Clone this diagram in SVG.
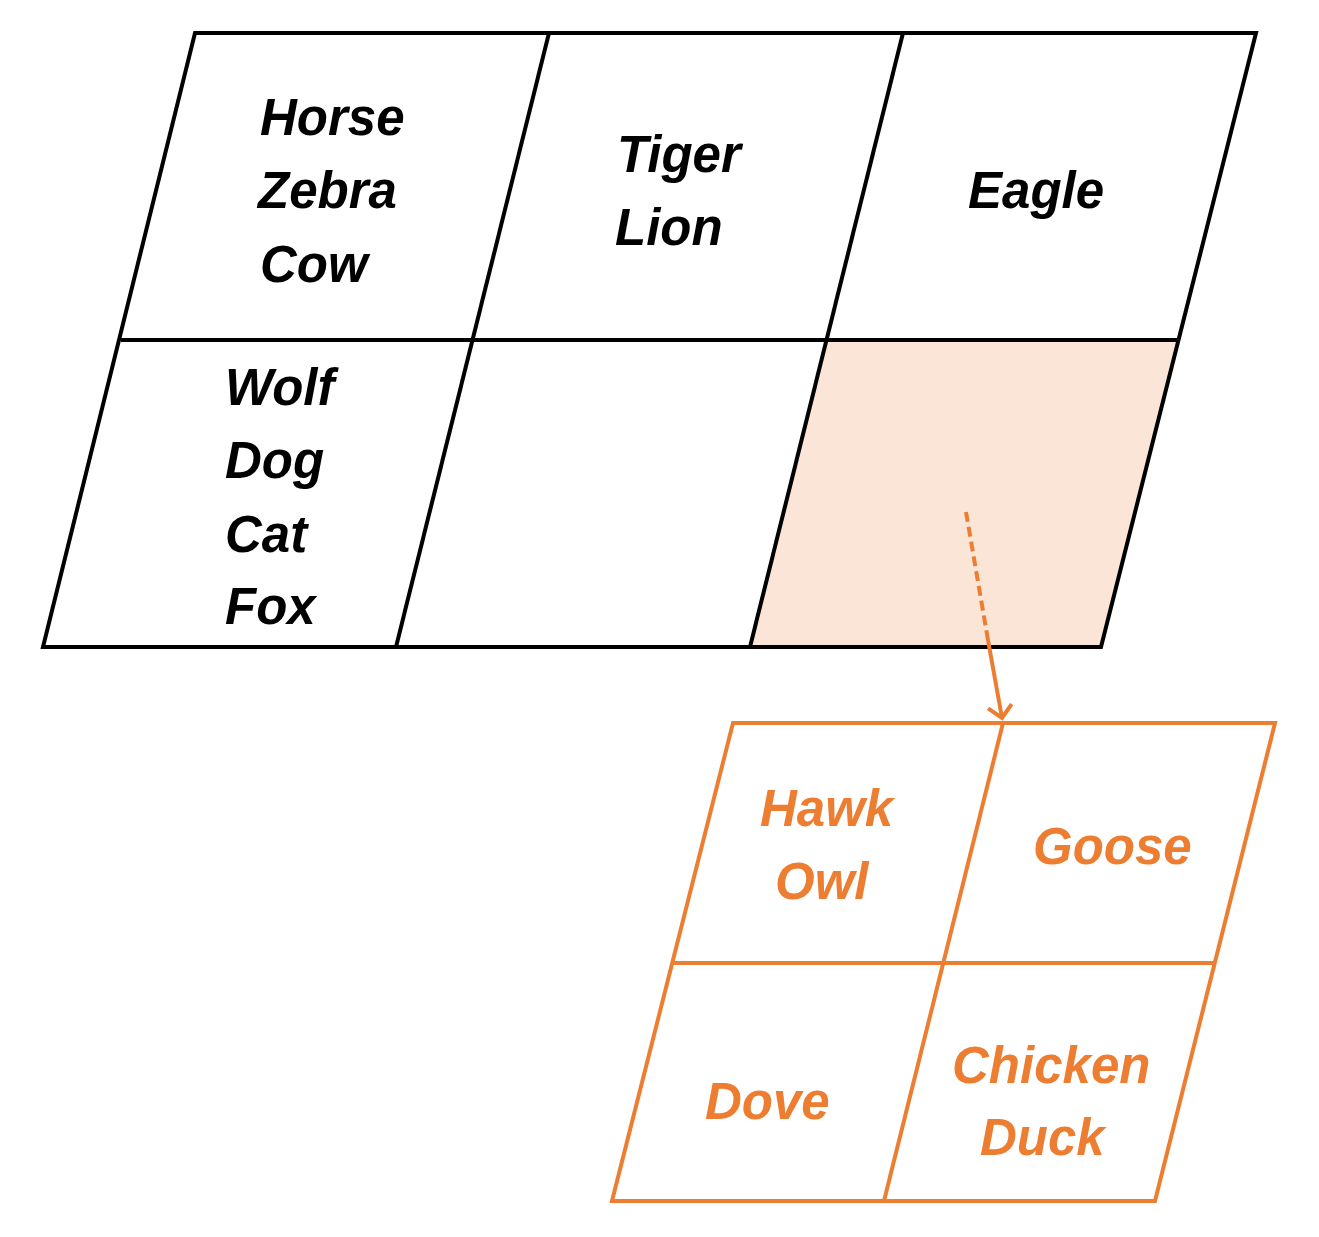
<svg xmlns="http://www.w3.org/2000/svg" width="1319" height="1237" viewBox="0 0 1319 1237">
<style>
.k{fill:none;stroke:#000;stroke-width:4;stroke-linejoin:miter}
.o{fill:none;stroke:#ED7D31;stroke-width:4}
text{font-family:"Liberation Sans",Arial,sans-serif;font-weight:bold;font-style:italic;font-size:51px}
.tk{fill:#000}.to{fill:#ED7D31}
</style>
<defs><marker id="ah" markerWidth="26" markerHeight="26" refX="13" refY="13" orient="auto" markerUnits="userSpaceOnUse" viewBox="0 0 26 26"><path d="M1,1 L13,13 L1,25" fill="none" stroke="#ED7D31" stroke-width="4"/></marker></defs>
<g id="top-grid">
<polygon points="827,340 1178,340 1101,647 750,647" fill="#FBE5D6"/>
<polygon class="k" points="195,33 1256,33 1101,647 43,647"/>
<line class="k" x1="121" y1="340" x2="1178" y2="340"/>
<line class="k" x1="549" y1="33" x2="396" y2="647"/>
<line class="k" x1="903" y1="33" x2="750" y2="647"/>
</g>
<g id="cell-herbivores" class="tk"><text x="260" y="135">Horse</text><text x="258" y="208">Zebra</text><text x="260" y="282">Cow</text></g>
<g id="cell-cats" class="tk"><text x="617" y="172">Tiger</text><text x="615" y="245">Lion</text></g>
<g id="cell-eagle" class="tk"><text x="968" y="208">Eagle</text></g>
<g id="cell-canines" class="tk"><text x="225" y="405">Wolf</text><text x="225" y="478">Dog</text><text x="225" y="552">Cat</text><text x="225" y="624">Fox</text></g>
<g id="connectors">
<line class="o" x1="966" y1="512" x2="988" y2="640" stroke-dasharray="10,5"/>
<line class="o" x1="988" y1="640" x2="1002" y2="718" marker-end="url(#ah)"/>
</g>
<g id="bottom-grid">
<polygon class="o" points="733,723 1275,723 1155,1201 612,1201"/>
<line class="o" x1="672" y1="963" x2="1215" y2="963"/>
<line class="o" x1="1003" y1="723" x2="884" y2="1201"/>
</g>
<g id="cell-raptors" class="to"><text x="760" y="826">Hawk</text><text x="775" y="899">Owl</text></g>
<g id="cell-goose" class="to"><text x="1033" y="864">Goose</text></g>
<g id="cell-dove" class="to"><text x="705" y="1119">Dove</text></g>
<g id="cell-poultry" class="to"><text x="952" y="1083">Chicken</text><text x="980" y="1155">Duck</text></g>
</svg>
